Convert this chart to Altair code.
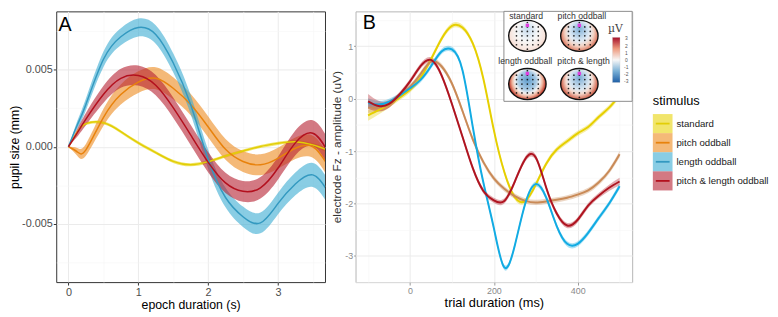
import altair as alt
import pandas as pd

FONT = "Liberation Sans"

stimuli = ["standard", "pitch oddball", "length oddball", "pitch & length oddball"]

# ---------------- Panel A : pupil size (values in 1e-3 mm) ----------------
epoch_s = [0, 0.125, 0.25, 0.5, 0.75, 1.0, 1.25, 1.5, 1.75, 2.0, 2.25, 2.5, 2.75, 3.0, 3.25, 3.5, 3.7]
pupil_standard = [0, 0.95, 1.5, 1.56, 0.98, 0.25, -0.38, -0.95, -1.17, -0.97, -0.6, -0.28, 0.02, 0.22, 0.32, 0.12, -0.2]
pupil_pitch = [0, -0.33, -0.2, 1.9, 3.4, 4.2, 4.45, 3.8, 2.75, 1.3, -0.17, -0.96, -1.17, -0.75, -0.1, 0.0, -1.1]
pupil_length = [0, 1.4, 2.75, 5.67, 7.15, 7.75, 7.3, 5.46, 2.75, -0.8, -3.3, -4.55, -4.95, -3.7, -2.42, -1.83, -2.8]
pupil_pl = [0, 0.9, 1.8, 3.4, 4.45, 4.63, 4.0, 2.54, 0.77, -1.0, -2.35, -2.9, -2.67, -1.4, 0.25, 0.88, -0.2]
se_standard = [0, 0.05, 0.08, 0.1, 0.1, 0.1, 0.1, 0.1, 0.1, 0.1, 0.1, 0.1, 0.1, 0.1, 0.1, 0.12, 0.14]
se_pitch = [0, 0.25, 0.38, 0.55, 0.65, 0.7, 0.72, 0.72, 0.7, 0.68, 0.68, 0.68, 0.68, 0.68, 0.7, 0.72, 0.75]
se_length = [0, 0.25, 0.38, 0.5, 0.56, 0.58, 0.6, 0.62, 0.62, 0.62, 0.64, 0.66, 0.68, 0.7, 0.74, 0.78, 0.8]
se_pl = [0, 0.25, 0.4, 0.55, 0.62, 0.65, 0.66, 0.66, 0.66, 0.66, 0.66, 0.68, 0.7, 0.74, 0.8, 0.84, 0.86]

# ---------------- Panel B : ERP at Fz (uV) ----------------
trial_ms = [-100, -75, -50, -25, 0, 25, 50, 75, 100, 125, 150, 175, 200, 225, 250, 275, 300, 325, 350, 375, 400, 425, 450, 475, 500]
erp_standard = [-0.32, -0.22, -0.11, 0.02, 0.17, 0.4, 0.75, 1.14, 1.39, 1.36, 1.05, 0.38, -0.6, -1.4, -1.88, -1.95, -1.64, -1.24, -0.97, -0.81, -0.66, -0.54, -0.35, -0.17, 0.07]
erp_pitch = [-0.17, -0.17, -0.11, 0.06, 0.23, 0.47, 0.71, 0.62, 0.29, -0.23, -0.78, -1.21, -1.52, -1.72, -1.86, -1.95, -1.98, -1.96, -1.93, -1.89, -1.83, -1.75, -1.6, -1.38, -1.06]
erp_length = [-0.08, -0.11, -0.06, 0.06, 0.2, 0.36, 0.62, 0.9, 0.94, 0.55, -0.55, -1.6, -2.47, -3.22, -2.8, -2.0, -1.63, -1.89, -2.43, -2.77, -2.77, -2.56, -2.28, -2.0, -1.67]
erp_pl = [-0.05, -0.14, -0.1, 0.08, 0.33, 0.62, 0.74, 0.45, -0.1, -0.72, -1.33, -1.76, -1.94, -1.95, -1.58, -1.15, -1.12, -1.7, -2.19, -2.42, -2.31, -2.04, -1.85, -1.7, -1.58]
erp_se_standard = [0.1, 0.08, 0.06, 0.05, 0.05, 0.05, 0.05, 0.05, 0.05, 0.05, 0.05, 0.05, 0.05, 0.05, 0.05, 0.05, 0.05, 0.05, 0.05, 0.05, 0.05, 0.05, 0.05, 0.05, 0.05]
erp_se_pitch = [0.1, 0.08, 0.06, 0.05, 0.05, 0.05, 0.05, 0.05, 0.05, 0.05, 0.05, 0.05, 0.05, 0.05, 0.05, 0.05, 0.05, 0.05, 0.05, 0.05, 0.05, 0.05, 0.05, 0.05, 0.06]
erp_se_length = [0.09, 0.07, 0.06, 0.05, 0.05, 0.05, 0.05, 0.05, 0.05, 0.05, 0.05, 0.05, 0.05, 0.05, 0.05, 0.05, 0.05, 0.05, 0.05, 0.05, 0.05, 0.05, 0.05, 0.05, 0.06]
erp_se_pl = [0.14, 0.1, 0.07, 0.05, 0.05, 0.05, 0.05, 0.05, 0.05, 0.05, 0.05, 0.05, 0.05, 0.05, 0.05, 0.05, 0.05, 0.05, 0.05, 0.05, 0.05, 0.05, 0.05, 0.06, 0.07]

# ---------------- Inset (topographic maps) ----------------
topo_titles = ["standard", "pitch oddball", "length oddball", "pitch & length"]
colorbar_ticks = [3, 2, 1, 0, -1, -2, -3]

# ---------------- axis tick lists ----------------
xa_ticks = [0, 0.5, 1, 1.5, 2, 2.5, 3, 3.5]
ya_ticks = [-0.0075, -0.005, -0.0025, 0, 0.0025, 0.005, 0.0075]
xb_ticks = [-100, 0, 100, 200, 300, 400, 500]
yb_ticks = [-3.5, -3, -2.5, -2, -1.5, -1, -0.5, 0, 0.5, 1, 1.5]

# ---------------- styles ----------------
line_a = ["#E2CE06", "#E8820C", "#3399C0", "#B3101E"]
band_a = ["#E8D40A", "#EC8A1E", "#3AABD2", "#B51F30"]
line_b = ["#E6CF00", "#C98A57", "#12ABE3", "#AF1420"]
topo_fills = [
    {"gradient": "radial", "x1": 0.5, "y1": 0.3, "r1": 0, "x2": 0.5, "y2": 0.45, "r2": 0.62,
     "stops": [{"offset": 0, "color": "#c5dbee"}, {"offset": 0.45, "color": "#f7f7f7"},
               {"offset": 0.75, "color": "#f8e4dc"}, {"offset": 1, "color": "#e6b09c"}]},
    {"gradient": "radial", "x1": 0.5, "y1": 0.3, "r1": 0, "x2": 0.5, "y2": 0.45, "r2": 0.62,
     "stops": [{"offset": 0, "color": "#7fb0d8"}, {"offset": 0.45, "color": "#e3ecf5"},
               {"offset": 0.62, "color": "#f4d3c4"}, {"offset": 0.82, "color": "#d9735a"}, {"offset": 1, "color": "#8f1d22"}]},
    {"gradient": "radial", "x1": 0.5, "y1": 0.38, "r1": 0, "x2": 0.5, "y2": 0.45, "r2": 0.6,
     "stops": [{"offset": 0, "color": "#5e9ccc"}, {"offset": 0.4, "color": "#a9cbe5"},
               {"offset": 0.55, "color": "#f2f2f2"}, {"offset": 0.68, "color": "#efb39b"},
               {"offset": 0.82, "color": "#c0392b"}, {"offset": 1, "color": "#6b0c17"}]},
    {"gradient": "radial", "x1": 0.5, "y1": 0.32, "r1": 0, "x2": 0.5, "y2": 0.45, "r2": 0.6,
     "stops": [{"offset": 0, "color": "#78abd5"}, {"offset": 0.45, "color": "#dbe7f1"},
               {"offset": 0.6, "color": "#f6dcd0"}, {"offset": 0.8, "color": "#d26b55"}, {"offset": 1, "color": "#7e1420"}]},
]
colorbar_fill = {"gradient": "linear", "x1": 0, "y1": 0, "x2": 0, "y2": 1,
                 "stops": [{"offset": 0, "color": "#a50f2a"}, {"offset": 0.25, "color": "#ee9a7e"},
                           {"offset": 0.5, "color": "#f7f7f7"}, {"offset": 0.75, "color": "#79b0d6"},
                           {"offset": 1, "color": "#1f5fa6"}]}
ELLIPSE = "M-1,0A1,0.83,0,1,1,1,0A1,0.83,0,1,1,-1,0Z"

# ---------------- tables ----------------
rows_a = []
for s, vals, ses in zip(stimuli, [pupil_standard, pupil_pitch, pupil_length, pupil_pl],
                        [se_standard, se_pitch, se_length, se_pl]):
    for t, v, e in zip(epoch_s, vals, ses):
        rows_a.append({"stimulus": s, "t": t, "y": v / 1000, "lo": (v - e) / 1000, "hi": (v + e) / 1000})
df_a = pd.DataFrame(rows_a)

rows_b = []
for s, vals, ses in zip(stimuli, [erp_standard, erp_pitch, erp_length, erp_pl],
                        [erp_se_standard, erp_se_pitch, erp_se_length, erp_se_pl]):
    for t, v, e in zip(trial_ms, vals, ses):
        rows_b.append({"stimulus": s, "ms": t, "uv": v, "lo": v - e, "hi": v + e})
df_b = pd.DataFrame(rows_b)


def grid_axis(values, major, title, label_expr, label_color, label_size, title_size, title_color,
              tick_color, title_pad, label_pad=2, tick_size=3):
    return alt.Axis(
        values=values, title=title, labelExpr=label_expr, domain=False, grid=True,
        gridColor={"condition": {"test": major, "value": "#EBEBEB"}, "value": "#F5F5F5"},
        gridWidth={"condition": {"test": major, "value": 1.0}, "value": 0.6},
        tickOpacity={"condition": {"test": major, "value": 1}, "value": 0},
        tickColor=tick_color, tickSize=tick_size, labelPadding=label_pad, labelColor=label_color,
        labelFontSize=label_size, labelFont=FONT, labelFlush=False, labelOverlap=False,
        titleFont=FONT, titleFontSize=title_size, titleColor=title_color,
        titleFontWeight="normal", titlePadding=title_pad,
    )


# ---------------- Panel A chart ----------------
xa = alt.Scale(domain=[-0.175, 3.675], nice=False, zero=False)
ya = alt.Scale(domain=[-0.0088, 0.0088], nice=False, zero=False)
MAJ_XA = "abs(datum.value - round(datum.value)) < 1e-6"
MAJ_YA = "abs(datum.value*200 - round(datum.value*200)) < 1e-6"
ax_xa = grid_axis(xa_ticks, MAJ_XA, "epoch duration (s)",
                  MAJ_XA + " ? '' + datum.value : ''", "#4D4D4D", 11, 12.5, "#000000", "#333333", 1)
ax_ya = grid_axis(ya_ticks, MAJ_YA, "pupil size (mm)",
                  MAJ_YA + " ? replace(format(datum.value, '.3f'), '\u2212', '-') : ''",
                  "#4D4D4D", 11, 12.5, "#000000", "#333333", 0, 1)


def XA(f):
    return alt.X(f, type="quantitative", scale=xa, axis=ax_xa)


def YA(f):
    return alt.Y(f, type="quantitative", scale=ya, axis=ax_ya)


band_A = alt.Chart(df_a).mark_area(opacity=0.6, interpolate="natural", clip=True).encode(
    x=XA("t"), y=YA("lo"), y2="hi:Q",
    fill=alt.Fill("stimulus:N", scale=alt.Scale(domain=stimuli, range=band_a), legend=None),
)
line_A = alt.Chart(df_a).mark_line(strokeWidth=1.5, interpolate="natural", clip=True).encode(
    x=XA("t"), y=YA("y"),
    stroke=alt.Stroke("stimulus:N", scale=alt.Scale(domain=stimuli, range=line_a), legend=None),
)
tag_A = alt.Chart(pd.DataFrame({"tag": ["A"], "t": [-0.05], "y": [0.0079]})).mark_text(
    fontSize=20, font=FONT, color="#000000", align="center", baseline="middle").encode(
    x=XA("t"), y=YA("y"), text="tag:N")

panel_A = alt.layer(band_A, line_A, tag_A).properties(
    width=273, height=275, view=alt.ViewBackground(stroke="#333333", strokeWidth=1))

# ---------------- Panel B chart ----------------
xb = alt.Scale(domain=[-130, 530], nice=False, zero=False)
yb = alt.Scale(domain=[-3.5, 1.667], nice=False, zero=False)
MAJ_XB = "abs(datum.value/200 - round(datum.value/200)) < 1e-6"
MAJ_YB = "abs(datum.value - round(datum.value)) < 1e-6"
ax_xb = grid_axis(xb_ticks, MAJ_XB, "trial duration (ms)",
                  MAJ_XB + " ? '' + datum.value : ''", "#8A8A8A", 9, 13, "#000000", "#999999", 1)
ax_yb = grid_axis(yb_ticks, MAJ_YB, "electrode Fz - amplitude (uV)",
                  MAJ_YB + " ? '' + datum.value : ''",
                  "#8A8A8A", 9, 12, "#333333", "#999999", 1, 1, 2)


def XB(f):
    return alt.X(f, type="quantitative", scale=xb, axis=ax_xb)


def YB(f):
    return alt.Y(f, type="quantitative", scale=yb, axis=ax_yb)


band_B = alt.Chart(df_b).mark_area(opacity=0.35, interpolate="natural").encode(
    x=XB("ms"), y=YB("lo"), y2="hi:Q",
    fill=alt.Fill("stimulus:N", scale=alt.Scale(domain=stimuli, range=line_b), legend=None),
)
line_B = alt.Chart(df_b).mark_line(strokeWidth=2, interpolate="natural").encode(
    x=XB("ms"), y=YB("uv"),
    stroke=alt.Stroke("stimulus:N", scale=alt.Scale(domain=stimuli, range=line_b), legend=None),
)
tag_B = alt.Chart(pd.DataFrame({"tag": ["B"], "ms": [-97], "uv": [1.45]})).mark_text(
    fontSize=20, font=FONT, color="#000000", align="center", baseline="middle").encode(
    x=XB("ms"), y=YB("uv"), text="tag:N")

# inset (placed in panel B's data coordinates)
inset_box = alt.Chart(pd.DataFrame({"ms": [224], "ms2": [530], "uv": [-0.05], "uv2": [1.667]})).mark_rect(
    fill="#FFFFFF", stroke="#8C8C8C", strokeWidth=1).encode(x=XB("ms"), x2="ms2:Q", y=YB("uv"), y2="uv2:Q")
topo_lab = alt.Chart(pd.DataFrame({"name": topo_titles, "ms": [277, 410, 275, 414],
                                   "uv": [1.58, 1.58, 0.72, 0.72]})).mark_text(
    fontSize=8.8, font=FONT, color="#333333", align="center", baseline="middle").encode(
    x=XB("ms"), y=YB("uv"), text="name:N")
head_x = [280, 404, 280, 404]
head_y = [1.2, 1.2, 0.28, 0.28]
heads = []
for name, hx, hy, fill in zip(topo_titles, head_x, head_y, topo_fills):
    heads.append(alt.Chart(pd.DataFrame({"name": [name], "ms": [hx], "uv": [hy]})).mark_point(
        shape=ELLIPSE, size=1444, filled=True, fill=fill, opacity=1, stroke="#111111",
        strokeWidth=1.4).encode(x=XB("ms"), y=YB("uv")))

# electrode montage drawn on each head: a regular grid clipped to the head outline
head_rx, head_ry = 44.0, 0.29
electrodes = []
for hx, hy in zip(head_x, head_y):
    for i in range(-3, 4):
        for j in range(-3, 4):
            dx, dy = i * 13.0, j * 0.085
            if (dx / head_rx) ** 2 + (dy / head_ry) ** 2 < 0.78:
                electrodes.append({"ms": hx + dx, "uv": hy + dy})
elec = alt.Chart(pd.DataFrame(electrodes)).mark_point(
    shape="circle", size=3, filled=True, color="#111111", opacity=0.9).encode(x=XB("ms"), y=YB("uv"))
fz = alt.Chart(pd.DataFrame({"ms": head_x, "uv0": head_y})).transform_calculate(
    uv="datum.uv0 + 0.2").mark_point(shape="square", size=12, filled=True, color="#E040E0", opacity=1).encode(
    x=XB("ms"), y=YB("uv"))
cbar = alt.Chart(pd.DataFrame({"ms": [483], "ms2": [501], "uv": [0.31], "uv2": [1.17]})).mark_rect(
    fill=colorbar_fill, stroke="#cccccc", strokeWidth=0.3).encode(x=XB("ms"), x2="ms2:Q", y=YB("uv"), y2="uv2:Q")
mu = alt.Chart(pd.DataFrame({"t": ["\u00b5V"], "ms": [490], "uv": [1.33]})).mark_text(
    fontSize=11, font="DejaVu Serif", color="#444444", align="center", baseline="middle").encode(
    x=XB("ms"), y=YB("uv"), text="t:N")
cticks = alt.Chart(pd.DataFrame({"v": colorbar_ticks, "ms": [516] * len(colorbar_ticks)})).transform_calculate(
    uv="0.74 + datum.v * 0.137", lab="'' + datum.v").mark_text(
    fontSize=5, font=FONT, color="#555555", align="center", baseline="middle").encode(
    x=XB("ms"), y=YB("uv"), text="lab:N")

panel_B = alt.layer(band_B, line_B, tag_B, inset_box, topo_lab, *heads, elec, fz, cbar, mu, cticks).properties(
    width=281, height=275, view=alt.ViewBackground(stroke="#B5B5B5", strokeWidth=1))

# ---------------- legend panel ----------------
df_leg = pd.DataFrame({"stimulus": stimuli, "idx": list(range(len(stimuli)))})
yl = alt.Scale(domain=[-5.876, 8.299], reverse=True, nice=False, zero=False)
leg_base = alt.Chart(df_leg).transform_calculate(lo="datum.idx - 0.5", hi="datum.idx + 0.5")
leg_rect = leg_base.mark_rect(opacity=0.6).encode(
    x=alt.value(15), x2=alt.value(35), y=alt.Y("lo:Q", scale=yl, axis=None), y2="hi:Q",
    fill=alt.Fill("stimulus:N", scale=alt.Scale(domain=stimuli, range=band_a), legend=None))
leg_line = leg_base.mark_rule(strokeWidth=1.8).encode(
    x=alt.value(18), x2=alt.value(32), y=alt.Y("idx:Q", scale=yl, axis=None),
    stroke=alt.Stroke("stimulus:N", scale=alt.Scale(domain=stimuli, range=line_a), legend=None))
leg_text = leg_base.mark_text(align="left", baseline="middle", fontSize=9.8, font=FONT, color="#1A1A1A").encode(
    x=alt.value(39), y=alt.Y("idx:Q", scale=yl, axis=None), text="stimulus:N")
leg_title = alt.Chart(pd.DataFrame({"title": ["stimulus"], "idx": [-1.19]})).mark_text(
    align="left", baseline="middle", fontSize=13, font=FONT, color="#000000").encode(
    x=alt.value(15), y=alt.Y("idx:Q", scale=yl, axis=None), text="title:N")
panel_L = alt.layer(leg_rect, leg_line, leg_text, leg_title).properties(
    width=110, height=275, view=alt.ViewBackground(stroke="transparent"))

chart = alt.hconcat(panel_A, panel_B, panel_L, spacing=4).resolve_scale(
    x="independent", y="independent", fill="independent", stroke="independent"
).properties(
    padding={"left": 0, "top": 0, "right": 0, "bottom": 2}
).configure(background="#FFFFFF")

chart.save("out.html", embed_options={"renderer": "svg", "actions": False})
